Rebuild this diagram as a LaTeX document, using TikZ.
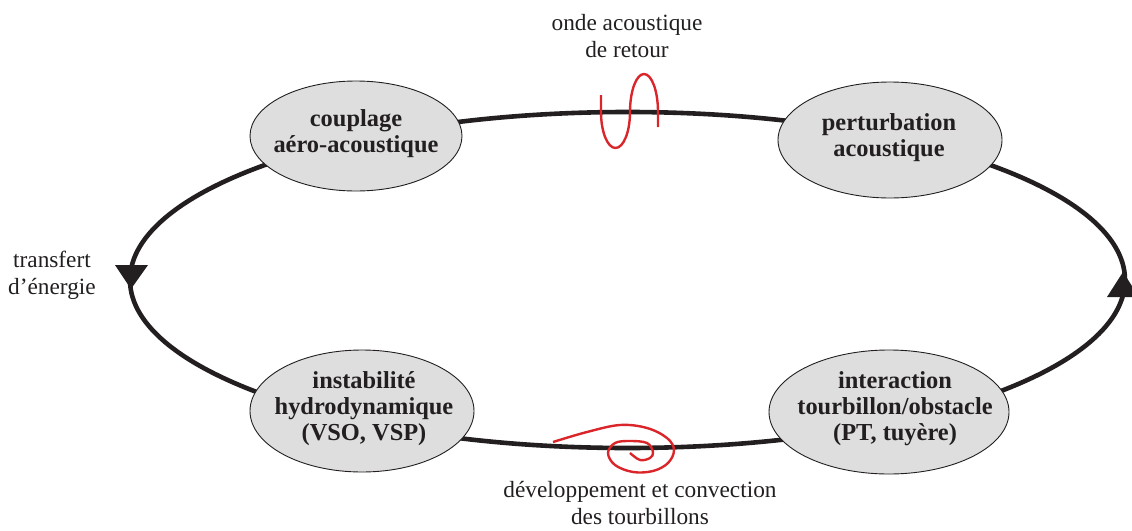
\documentclass[tikz,border=0pt]{standalone}
\usepackage{fontspec}
\setmainfont{Liberation Serif}
\usetikzlibrary{shapes.geometric}
\definecolor{ink}{RGB}{35,31,32}
\definecolor{wavered}{RGB}{218,37,42}
\definecolor{bubble}{RGB}{222,222,222}
\tikzset{
  loopline/.style={draw=ink, line width=4.6pt},
  bubblebox/.style={ellipse, draw=ink, line width=0.9pt, fill=bubble, inner sep=0pt},
  bubbletext/.style={align=center, text=ink, inner sep=0pt, font=\fontsize{24.4}{26}\selectfont\bfseries},
  sidelabel/.style={align=center, text=ink, inner sep=0pt, font=\fontsize{23.3}{26.5}\selectfont},
  redwave/.style={draw=wavered, line width=2.4pt},
  tipfill/.style={fill=ink, draw=none}
}
\begin{document}
\begin{tikzpicture}[x=1pt,y=-1pt]
\useasboundingbox (0,0) rectangle (1132,530);
\clip (0,0) rectangle (1132,530);
% main loop
\draw[loopline] (627.5,280) ellipse [x radius=497.5pt, y radius=168pt];
% nodes
\node[bubblebox, minimum width=212pt, minimum height=110pt] (c1) at (356,136) {};
\node[bubbletext] (t1) at (356,134) {couplage\\aéro-acoustique};
\node[bubblebox, minimum width=224pt, minimum height=116pt] (c2) at (890,140) {};
\node[bubbletext] (t2) at (889,138) {perturbation\\acoustique};
\node[bubblebox, minimum width=224pt, minimum height=122pt] (c3) at (362,411) {};
\node[bubbletext] (t3) at (364,409) {instabilité\\hydrodynamique\\(VSO, VSP)};
\node[bubblebox, minimum width=240pt, minimum height=124pt] (c4) at (889,412) {};
\node[bubbletext] (t4) at (895,409) {interaction\\tourbillon/obstacle\\(PT, tuyère)};
% arrow tips
\fill[tipfill] (115,265) -- (148,265) -- (131,289) -- cycle;
\fill[tipfill] (1107,297) -- (1139,297) -- (1123,272) -- cycle;
% labels (base anchor = last line baseline)
\node[sidelabel, anchor=base] (l1) at (627,57) {onde acoustique\\de retour};
\node[sidelabel, anchor=base] (l2) at (52,294) {transfert\\d’énergie};
\node[sidelabel, anchor=base] (l3) at (640,524) {développement et convection\\des tourbillons};
% acoustic wave
\draw[redwave] (601,95) -- (601,112)
  arc[start angle=180, end angle=360, x radius=14.5pt, y radius=36pt]
  arc[start angle=180, end angle=0, x radius=14pt, y radius=38pt]
  -- (658,127);
% vortex spiral
\draw[redwave] plot[smooth, tension=0.6] coordinates {
  (553,442) (587,432) (620,425) (647,428) (667,438) (674,450) (668,463)
  (653,471) (633,472) (615,465) (608,453) (615,443) (630,441) (647,443)
  (653,452) (650,458) (640,460) (630,453)};
\end{tikzpicture}
\end{document}
